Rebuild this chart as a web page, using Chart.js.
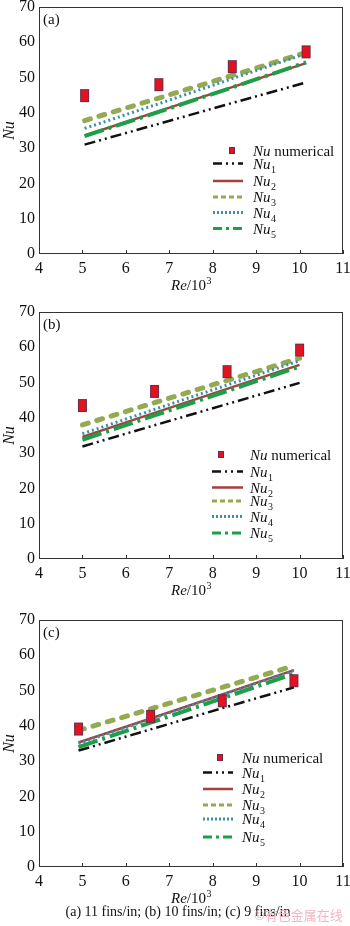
<!DOCTYPE html>
<html lang="en">
<head>
<meta charset="UTF-8">
<title>Nu vs Re</title>
<script src="https://cdn.jsdelivr.net/npm/chart.js"></script>
<style>
  body { margin: 0; background: #fff; }
  #wrap { position: relative; width: 350px; height: 926px; overflow: hidden; }
  #wrap canvas { position: absolute; left: 0; }
  #caption {
    position: absolute; top: 904px; left: 0; width: 356px;
    text-align: center; font: 14px "Liberation Serif", serif; color: #111;
  }
  #mark {
    position: absolute; top: 905px; left: 254px; white-space: nowrap;
    font: 13px "Noto Sans CJK SC", sans-serif; color: #f2b6bf;
  }
</style>
</head>
<body>
<div id="wrap">
  <canvas id="chartA" width="350" height="300" style="top:0px"></canvas>
  <canvas id="chartB" width="350" height="300" style="top:305px"></canvas>
  <canvas id="chartC" width="350" height="300" style="top:613px"></canvas>
  <div id="caption">(a) 11 fins/in; (b) 10 fins/in; (c) 9 fins/in</div>
  <div id="mark">©有色金属在线</div>
</div>
<script>
// values
const xTicks = [4, 5, 6, 7, 8, 9, 10, 11];
const yTicks = [0, 10, 20, 30, 40, 50, 60, 70];

const reA  = [5.05, 6.76, 8.45, 10.15];
const numA = [44.9, 48.0, 53.1, 57.3];
const nu1A = [31.0, 36.9, 42.8, 48.6];
const nu2A = [33.6, 40.5, 47.3, 54.1];
const nu3A = [37.8, 44.2, 50.6, 57.1];
const nu4A = [35.6, 42.6, 49.7, 56.8];
const nu5A = [33.4, 40.3, 47.2, 54.3];

const reB  = [5.0, 6.66, 8.33, 10.0];
const numB = [43.5, 47.5, 53.1, 59.2];
const nu1B = [31.9, 37.9, 43.9, 49.9];
const nu2B = [34.6, 41.4, 48.2, 55.0];
const nu3B = [38.0, 44.3, 50.6, 56.9];
const nu4B = [35.5, 42.4, 49.3, 56.2];
const nu5B = [33.8, 40.7, 47.6, 54.5];

const reC  = [4.91, 6.57, 8.22, 9.87];
const numC = [39.1, 42.7, 47.1, 52.8];
const nu1C = [33.0, 39.0, 45.0, 50.9];
const nu2C = [35.3, 42.1, 48.9, 55.8];
const nu3C = [38.7, 44.8, 50.9, 57.0];
const nu4C = [35.0, 41.9, 48.8, 55.7];
const nu5C = [34.0, 40.9, 47.8, 54.8];

const SERIF = '"Liberation Serif", "Times New Roman", serif';

// red rectangle marker
const marker = document.createElement('canvas');
marker.width = 11; marker.height = 15;
(function () {
  const c = marker.getContext('2d');
  c.fillStyle = '#e3121e';
  c.fillRect(1, 1, 9, 13);
  c.strokeStyle = '#6a2c4c';
  c.lineWidth = 1;
  c.strokeRect(1.5, 1.5, 8, 12);
})();

const styles = [
  { color: '#111111', width: 2.5, dash: [11, 4, 2, 4, 2, 4], cap: 'butt', order: 5, legDash: [9, 4, 2, 4, 2, 4] },
  { color: '#a3423c', width: 2.5, dash: [], cap: 'butt', order: 4, legDash: [] },
  { color: '#93aa50', width: 5, dash: [6, 9], cap: 'round', order: 3, legDash: [5, 3] },
  { color: '#3a8fb0', width: 3, dash: [2, 3], cap: 'butt', order: 1, legDash: [2, 2] },
  { color: '#1f9e4a', width: 4, dash: [20, 5, 3, 5], cap: 'butt', order: 2, legDash: [9, 4, 3, 4] }
];

function pts(xs, ys) {
  return xs.map((x, i) => ({ x: x, y: ys[i] }));
}

const decor = {
  id: 'decor',
  afterDraw(chart, args, opts) {
    const ctx = chart.ctx;
    const a = chart.chartArea;
    const xs = chart.scales.x;
    ctx.save();
    // frame
    ctx.strokeStyle = '#333';
    ctx.lineWidth = 1;
    ctx.strokeRect(Math.round(a.left) + 0.5, Math.round(a.top) + 0.5,
      Math.round(a.right - a.left) - 1, Math.round(a.bottom - a.top) - 1);
    // inward ticks on the bottom axis
    ctx.beginPath();
    xTicks.forEach(v => {
      const px = Math.round(xs.getPixelForValue(v)) + 0.5;
      ctx.moveTo(px, a.bottom);
      ctx.lineTo(px, a.bottom - 4);
    });
    ctx.stroke();

    ctx.fillStyle = '#111';
    ctx.textBaseline = 'alphabetic';
    ctx.textAlign = 'left';
    // panel label
    ctx.font = '15px ' + SERIF;
    ctx.fillText(opts.label, a.left + 4, a.top + 17);

    // x title: Re/10^3
    const by = a.bottom + 36;
    ctx.font = 'italic 15px ' + SERIF;
    const w1 = ctx.measureText('Re').width;
    ctx.font = '15px ' + SERIF;
    const w2 = ctx.measureText('/10').width;
    ctx.font = '10px ' + SERIF;
    const w3 = ctx.measureText('3').width;
    let tx = (a.left + a.right) / 2 - (w1 + w2 + w3) / 2;
    ctx.font = 'italic 15px ' + SERIF;
    ctx.fillText('Re', tx, by);
    ctx.font = '15px ' + SERIF;
    ctx.fillText('/10', tx + w1, by);
    ctx.font = '10px ' + SERIF;
    ctx.fillText('3', tx + w1 + w2 + 0.5, by - 6);

    // legend
    const lg = opts.legend;
    const r0 = lg.rows[0];
    ctx.fillStyle = '#e3121e';
    ctx.fillRect(lg.markX - 3, r0 - 3.5, 6, 7);
    ctx.strokeStyle = '#6a2c4c';
    ctx.strokeRect(lg.markX - 3 + 0.5, r0 - 3.5 + 0.5, 5, 6);
    ctx.fillStyle = '#111';
    ctx.font = 'italic 15px ' + SERIF;
    ctx.fillText('Nu', lg.textX, r0 + 5);
    const wn = ctx.measureText('Nu').width;
    ctx.font = '15px ' + SERIF;
    ctx.fillText(' numerical', lg.textX + wn, r0 + 5);

    styles.forEach((s, i) => {
      const y = lg.rows[i + 1];
      ctx.strokeStyle = s.color;
      ctx.lineWidth = Math.min(s.width, 3);
      ctx.lineCap = 'butt';
      ctx.setLineDash(s.legDash);
      ctx.beginPath();
      ctx.moveTo(lg.lineX0, y);
      ctx.lineTo(lg.lineX1, y);
      ctx.stroke();
      ctx.setLineDash([]);
      ctx.fillStyle = '#111';
      ctx.font = 'italic 15px ' + SERIF;
      ctx.fillText('Nu', lg.textX, y + 5);
      ctx.font = '10px ' + SERIF;
      ctx.fillText(String(i + 1), lg.textX + wn + 0.5, y + 9);
    });
    ctx.restore();
  }
};

function makeChart(id, label, re, num, lines, legend) {
  const datasets = [{
    label: 'Nu numerical',
    data: pts(re, num),
    showLine: false,
    pointStyle: marker,
    pointRadius: 6,
    order: 0
  }];
  lines.forEach((ys, i) => {
    const s = styles[i];
    datasets.push({
      label: 'Nu' + (i + 1),
      data: pts(re, ys),
      showLine: true,
      borderColor: s.color,
      borderWidth: s.width,
      borderDash: s.dash,
      borderCapStyle: s.cap,
      pointRadius: 0,
      fill: false,
      tension: 0,
      order: s.order
    });
  });

  return new Chart(document.getElementById(id), {
    type: 'scatter',
    data: { datasets: datasets },
    options: {
      responsive: false,
      animation: false,
      devicePixelRatio: 1,
      layout: { padding: { top: 6, right: 4, left: 0, bottom: 0 } },
      plugins: {
        legend: { display: false },
        tooltip: { enabled: false },
        decor: { label: label, legend: legend }
      },
      scales: {
        x: {
          type: 'linear', min: 4, max: 11,
          afterBuildTicks: s => { s.ticks = xTicks.map(v => ({ value: v })); },
          grid: { display: false, drawTicks: false },
          border: { display: false },
          ticks: { font: { family: SERIF, size: 16 }, color: '#111', padding: 5, maxRotation: 0, autoSkip: false },
          afterFit: s => { s.height = 46; s.paddingLeft = 0; s.paddingRight = 0; }
        },
        y: {
          type: 'linear', min: 0, max: 70,
          afterBuildTicks: s => { s.ticks = yTicks.map(v => ({ value: v })); },
          grid: { display: false, drawTicks: false },
          border: { display: false },
          ticks: { font: { family: SERIF, size: 16 }, color: '#111', padding: 4 },
          title: { display: true, text: 'Nu', color: '#111', font: { family: SERIF, size: 16, style: 'italic' }, padding: 0 },
          afterFit: s => { s.width = 39; s.paddingTop = 0; s.paddingBottom = 0; }
        }
      }
    },
    plugins: [decor]
  });
}

makeChart('chartA', '(a)', reA, numA, [nu1A, nu2A, nu3A, nu4A, nu5A],
  { markX: 232, lineX0: 213, lineX1: 243, textX: 253, rows: [150.5, 163.5, 181, 197, 212.5, 228.5] });
makeChart('chartB', '(b)', reB, numB, [nu1B, nu2B, nu3B, nu4B, nu5B],
  { markX: 221, lineX0: 212, lineX1: 243, textX: 250, rows: [149.5, 166.5, 182.5, 196, 211.5, 228] });
makeChart('chartC', '(c)', reC, numC, [nu1C, nu2C, nu3C, nu4C, nu5C],
  { markX: 220, lineX0: 203, lineX1: 233, textX: 242, rows: [144.5, 159.5, 176, 192, 206, 224] });
</script>
</body>
</html>
